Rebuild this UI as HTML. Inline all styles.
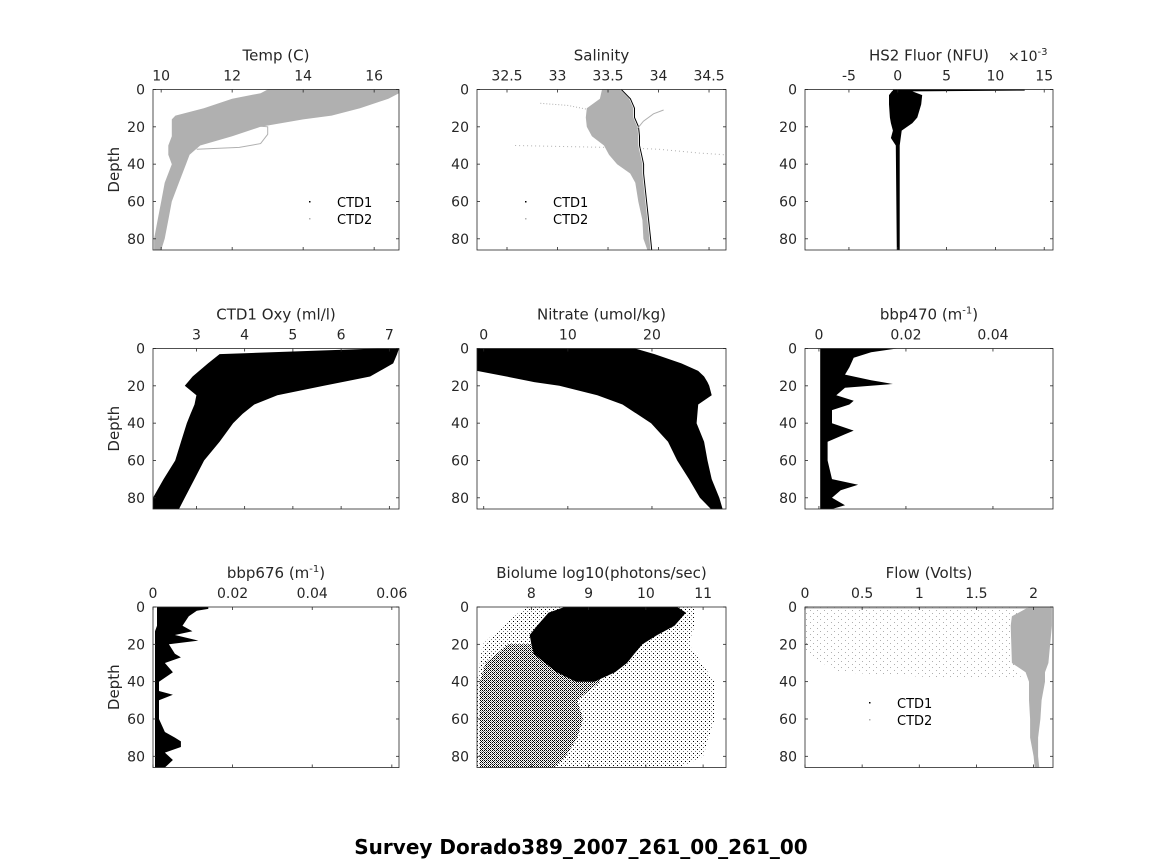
<!DOCTYPE html>
<html><head><meta charset="utf-8">
<style>
html,body{margin:0;padding:0;background:#fff;}
svg{display:block;font-family:"DejaVu Sans","Liberation Sans",sans-serif;}
text{fill:#262626;}
</style></head>
<body>
<svg id="fig" width="1164" height="864" viewBox="0 0 1164 864" xmlns="http://www.w3.org/2000/svg">
<defs>
<pattern id="sparse" width="4" height="4" patternUnits="userSpaceOnUse"><rect x="1" y="1" width="1" height="1" fill="#000"/><rect x="3" y="3" width="1" height="1" fill="#000" opacity="0.5"/></pattern>
<pattern id="medium" width="2" height="2" patternUnits="userSpaceOnUse"><rect x="0" y="0" width="1" height="1" fill="#000"/><rect x="1" y="1" width="1" height="1" fill="#000" opacity="0.4"/></pattern>
<pattern id="graysparse" width="7" height="6" patternUnits="userSpaceOnUse"><rect x="1" y="1" width="1" height="1" fill="#b0b0b0"/><rect x="5" y="4" width="1" height="1" fill="#b0b0b0"/></pattern>
</defs>
<text x="581" y="854" text-anchor="middle" font-size="20" font-weight="bold" style="fill:#000">Survey Dorado389_2007_261_00_261_00</text>
</svg>
<script>
// ---- data arrays (depth in m) ----
const tempDepth=[0,2,5,10,14,16,20,25,30,35,40,50,60,70,80,86];
const tempLo=[13.0,12.8,12.0,11.2,10.4,10.3,10.3,10.3,10.2,10.2,10.3,10.1,10.0,9.9,9.8,9.8];
const tempHi=[16.7,16.7,16.4,15.6,14.8,14.0,12.8,12.0,11.1,10.8,10.7,10.5,10.3,10.2,10.1,10.0];
const tempStrayDepth=[32,31,29,24,20,19];
const tempStrayVal=[11.0,12.2,12.8,13.0,13.0,12.3];

const salDepth=[0,5,10,15,20,25,30,35,40,45,50,60,70,80,86];
const salLo=[33.44,33.42,33.29,33.28,33.29,33.34,33.46,33.51,33.59,33.72,33.77,33.80,33.84,33.85,33.89];
const salHi=[33.62,33.71,33.75,33.75,33.79,33.80,33.80,33.82,33.84,33.84,33.85,33.87,33.89,33.91,33.92];
const salStray1Depth=[30,30.5,31,32,34,35];
const salStray1Val=[32.58,33.0,33.5,34.0,34.4,34.66];
const salStray2Depth=[7.4,8.5,11];
const salStray2Val=[32.83,33.1,33.33];
const salStray3Depth=[21,17,13,11];
const salStray3Val=[33.79,33.85,33.95,34.05];

const fluDepth=[0,0.6,1.0,3,8,15,18,22,26,30,86];
const fluLo=[-0.5,-0.5,-0.6,-0.9,-0.9,-0.8,-0.7,-0.5,-0.7,-0.2,-0.1];
const fluHi=[13.0,13.0,1.5,2.5,2.4,2.0,1.5,0.4,0.3,0.2,0.2];

const oxyDepth=[0,3,8,15,20,25,30,35,40,50,60,70,80,86];
const oxyLo=[6.76,3.48,3.24,2.92,2.76,3.0,2.96,2.88,2.8,2.68,2.56,2.32,2.1,2.1];
const oxyHi=[7.2,7.16,7.08,6.6,5.64,4.68,4.2,3.96,3.76,3.48,3.16,2.96,2.76,2.64];

const nitDepth=[0,3,8,12,15,18,20,25,30,40,50,60,70,80,86];
const nitLo=[-0.8,-0.8,-0.8,-0.8,2.7,6,9,13.5,16.5,19.9,21.9,23,24.4,25.7,27];
const nitHi=[18,20.3,23.5,25.5,26.2,26.6,26.8,27.1,25.5,25.3,26.2,26.6,27.1,28,28.4];

const b470Depth=[0,2,5,10,14,17,19,21,25,28,30,33,40,44,46,50,60,70,73,76,80,84,86];
const b470Hi=[0.018,0.012,0.008,0.007,0.006,0.012,0.017,0.006,0.004,0.008,0.007,0.003,0.003,0.008,0.006,0.002,0.002,0.003,0.009,0.005,0.003,0.006,0.003];
const b470Lo=[0.0003,0.0003,0.0003,0.0003,0.0003,0.0003,0.0003,0.0003,0.0003,0.0003,0.0003,0.0003,0.0003,0.0003,0.0003,0.0003,0.0003,0.0003,0.0003,0.0003,0.0003,0.0003,0.0003];

const b676Depth=[0,1,2,5,10,13,15,18,20,25,27,30,35,40,45,47,50,60,67,70,72,75,78,82,86];
const b676Hi=[0.0139,0.0139,0.011,0.009,0.0074,0.0099,0.0055,0.0114,0.004,0.0055,0.007,0.003,0.005,0.0015,0.0015,0.005,0.0015,0.0015,0.003,0.0055,0.007,0.007,0.003,0.005,0.003];
const b676Lo=[0.001,0.001,0.001,0.001,0.001,0.0005,0.0005,0.0005,0.0005,0.0005,0.0005,0.0005,0.0005,0.0005,0.0005,0.0005,0.0005,0.0005,0.0005,0.0005,0.0005,0.0005,0.0005,0.0005,0.0005];

const bioCoreDepth=[0,3,10,15,20,25,30,35,40];
const bioCoreLo=[8.58,8.3,8.1,7.97,8.0,8.04,8.24,8.44,8.78];
const bioCoreHi=[10.55,10.7,10.5,10.2,9.94,9.8,9.67,9.46,9.1];
const bioMedDepth=[20,30,40,50,60,70,80,86];
const bioMedLo=[7.6,7.2,7.1,7.1,7.1,7.1,7.1,7.1];
const bioMedHi=[9.4,9.2,9.2,8.8,8.9,8.8,8.6,8.4];
const bioSparseDepth=[0,10,20,40,60,80,86];
const bioSparseLo=[7.9,7.5,7.15,7.05,7.05,7.05,7.05];
const bioSparseHi=[10.85,10.85,10.75,11.2,11.2,11.0,10.6];

const flowDepth=[0,5,10,30,35,40,50,60,70,80,86];
const flowLo=[1.96,1.81,1.8,1.81,1.93,1.96,1.96,1.97,1.97,2.0,2.01];
const flowHi=[2.16,2.16,2.16,2.13,2.1,2.1,2.07,2.06,2.04,2.04,2.05];
const flowSparseDepth=[0,5,15,25,35,38];
const flowSparseLo=[0,0,0,0,0.3,1.2];
const flowSparseHi=[1.9,1.85,1.8,1.8,1.85,1.9];

// ---- axes ----
const NS="http://www.w3.org/2000/svg";
const svg=document.getElementById('fig');
const DMAX=86;
function el(tag,attrs,parent){const e=document.createElementNS(NS,tag);for(const k in attrs)e.setAttribute(k,attrs[k]);(parent||svg).appendChild(e);return e;}

const panels=[
 {id:'temp',x0:153,x1:399,y0:89.5,xmin:9.77,xmax:16.7,ticks:[10,12,14,16],labels:['10','12','14','16'],title:'Temp (C)'},
 {id:'salinity',x0:477,x1:726,y0:89.5,xmin:32.203,xmax:34.668,ticks:[32.5,33,33.5,34,34.5],labels:['32.5','33','33.5','34','34.5'],title:'Salinity'},
 {id:'fluor',x0:805,x1:1053,y0:89.5,xmin:-9.5,xmax:15.9,ticks:[-5,0,5,10,15],labels:['-5','0','5','10','15'],title:'HS2 Fluor (NFU)'},
 {id:'oxy',x0:153,x1:399,y0:348.5,xmin:2.1,xmax:7.2,ticks:[3,4,5,6,7],labels:['3','4','5','6','7'],title:'CTD1 Oxy (ml/l)'},
 {id:'nitrate',x0:477,x1:726,y0:348.5,xmin:-0.8,xmax:28.8,ticks:[0,10,20],labels:['0','10','20'],title:'Nitrate (umol/kg)'},
 {id:'bbp470',x0:805,x1:1053,y0:348.5,xmin:-0.0032,xmax:0.0538,ticks:[0,0.02,0.04],labels:['0','0.02','0.04'],title:'bbp470'},
 {id:'bbp676',x0:153,x1:399,y0:607,xmin:0,xmax:0.0618,ticks:[0,0.02,0.04,0.06],labels:['0','0.02','0.04','0.06'],title:'bbp676'},
 {id:'biolume',x0:477,x1:726,y0:607,xmin:7.05,xmax:11.4,ticks:[8,9,10,11],labels:['8','9','10','11'],title:'Biolume log10(photons/sec)'},
 {id:'flow',x0:805,x1:1053,y0:607,xmin:0,xmax:2.17,ticks:[0,0.5,1,1.5,2],labels:['0','0.5','1','1.5','2'],title:'Flow (Volts)'}
];
const H=160.5;
panels.forEach(p=>{
  p.sx=v=>p.x0+(v-p.xmin)/(p.xmax-p.xmin)*(p.x1-p.x0);
  p.sy=d=>p.y0+d/DMAX*H;
  p.g=el('g',{});
  
  
  p.cid='clip-'+p.id;
  const cp=el('clipPath',{id:p.cid},svg.querySelector('defs'));
  el('rect',{x:p.x0,y:p.y0,width:p.x1-p.x0,height:H},cp);
  p.plot=el('g',{'clip-path':'url(#'+p.cid+')'},p.g);
  
  
});
const P={};panels.forEach(p=>P[p.id]=p);

function band(p,depths,lo,hi,fill,name){
  const pts=[];
  for(let i=0;i<depths.length;i++)pts.push(p.sx(lo[i]).toFixed(1)+','+p.sy(depths[i]).toFixed(1));
  for(let i=depths.length-1;i>=0;i--)pts.push(p.sx(hi[i]).toFixed(1)+','+p.sy(depths[i]).toFixed(1));
  const e=el('polygon',{points:pts.join(' '),fill:fill},p.plot);
  
  
  return e;
}
function line(p,depths,vals,stroke,name,dash){
  const pts=depths.map((d,i)=>p.sx(vals[i]).toFixed(1)+','+p.sy(d).toFixed(1));
  const e=el('polyline',{points:pts.join(' '),fill:'none',stroke:stroke,'stroke-width':1,'stroke-dasharray':dash||'none'},p.plot);
  
  
}
const GRAY='#b0b0b0';
band(P.temp,tempDepth,tempLo,tempHi,GRAY,'temp-ctd2-band');
line(P.temp,tempStrayDepth,tempStrayVal,GRAY,'temp-ctd2-stray');
line(P.salinity,salDepth,salHi.map(v=>v+0.012),'#000','salinity-ctd1-edge');
band(P.salinity,salDepth,salLo,salHi,GRAY,'salinity-ctd2-band');
line(P.salinity,salStray1Depth,salStray1Val,GRAY,'salinity-stray-1','1 3');
line(P.salinity,salStray2Depth,salStray2Val,GRAY,'salinity-stray-2','1 2');
line(P.salinity,salStray3Depth,salStray3Val,GRAY,'salinity-stray-3');
band(P.fluor,fluDepth,fluLo,fluHi,'#000','fluor-band');
band(P.oxy,oxyDepth,oxyLo,oxyHi,'#000','oxy-band');
band(P.nitrate,nitDepth,nitLo,nitHi,'#000','nitrate-band');
band(P.bbp470,b470Depth,b470Lo,b470Hi,'#000','bbp470-band');
band(P.bbp676,b676Depth,b676Lo,b676Hi,'#000','bbp676-band');
band(P.biolume,bioSparseDepth,bioSparseLo,bioSparseHi,'url(#sparse)','biolume-sparse');
band(P.biolume,bioMedDepth,bioMedLo,bioMedHi,'url(#medium)','biolume-medium');
band(P.biolume,bioCoreDepth,bioCoreLo,bioCoreHi,'#000','biolume-core');
band(P.flow,flowSparseDepth,flowSparseLo,flowSparseHi,'url(#graysparse)','flow-sparse');
band(P.flow,flowDepth,flowLo,flowHi,GRAY,'flow-ctd2-band');
line(P.flow,[0.6,0.6],[0,1.95],GRAY,'flow-surface-line');

const depthTicks=[0,20,40,60,80];
panels.forEach((p,idx)=>{
  const ax=el('g',{},p.g);
  
  
  el('rect',{x:p.x0,y:p.y0,width:p.x1-p.x0,height:H,fill:'none',stroke:'#262626','stroke-width':0.8},ax);
  p.ticks.forEach((t,i)=>{
    const x=p.sx(t);
    el('line',{x1:x,y1:p.y0,x2:x,y2:p.y0+3,stroke:'#262626','stroke-width':0.8},ax);
    el('line',{x1:x,y1:p.y0+H,x2:x,y2:p.y0+H-3,stroke:'#262626','stroke-width':0.8},ax);
    const tl=el('text',{x:x,y:p.y0-9,'text-anchor':'middle','font-size':14},ax);
    tl.textContent=p.labels[i];
    
    
  });
  depthTicks.forEach(d=>{
    const y=p.sy(d);
    el('line',{x1:p.x0,y1:y,x2:p.x0+3,y2:y,stroke:'#262626','stroke-width':0.8},ax);
    el('line',{x1:p.x1,y1:y,x2:p.x1-3,y2:y,stroke:'#262626','stroke-width':0.8},ax);
    const tl=el('text',{x:p.x0-8,y:y+5,'text-anchor':'end','font-size':14},ax);
    tl.textContent=d;
    
    
  });
  const cx=(p.x0+p.x1)/2;
  const tt=el('text',{x:cx,y:p.y0-29,'text-anchor':'middle','font-size':15},ax);
  
  
  if(p.id==='bbp470'||p.id==='bbp676'){
    tt.textContent=p.title+' (m';
    const s=el('tspan',{dy:-6,'font-size':10},tt);s.textContent='-1';
    const e2=el('tspan',{dy:6},tt);e2.textContent=')';
  } else tt.textContent=p.title;
  if(idx%3===0){
    const yl=el('text',{x:0,y:0,'text-anchor':'middle','font-size':15,transform:'translate(119,'+(p.y0+H/2)+') rotate(-90)'},ax);
    yl.textContent='Depth';
    
    
  }
});
const ex=el('text',{x:1008,y:61,'font-size':14});


ex.textContent='\u00d710';
const exs=el('tspan',{dy:-6,'font-size':10},ex);exs.textContent='-3';

function legend(x,y,id){
  const g=el('g',{});
  
  
  el('rect',{x:x-1,y:y-1,width:1.5,height:1.5,fill:'#000'},g);
  el('rect',{x:x-1,y:y+16,width:1.5,height:1.5,fill:GRAY},g);
  const t1=el('text',{x:x+27,y:y+5,'font-size':13,style:'fill:#000'},g);t1.textContent='CTD1';
  
  
  const t2=el('text',{x:x+27,y:y+22,'font-size':13,style:'fill:#000'},g);t2.textContent='CTD2';
  
  
}
legend(310,202,'temp');
legend(526,202,'salinity');
legend(870,703,'flow');
</script>
</body></html>
